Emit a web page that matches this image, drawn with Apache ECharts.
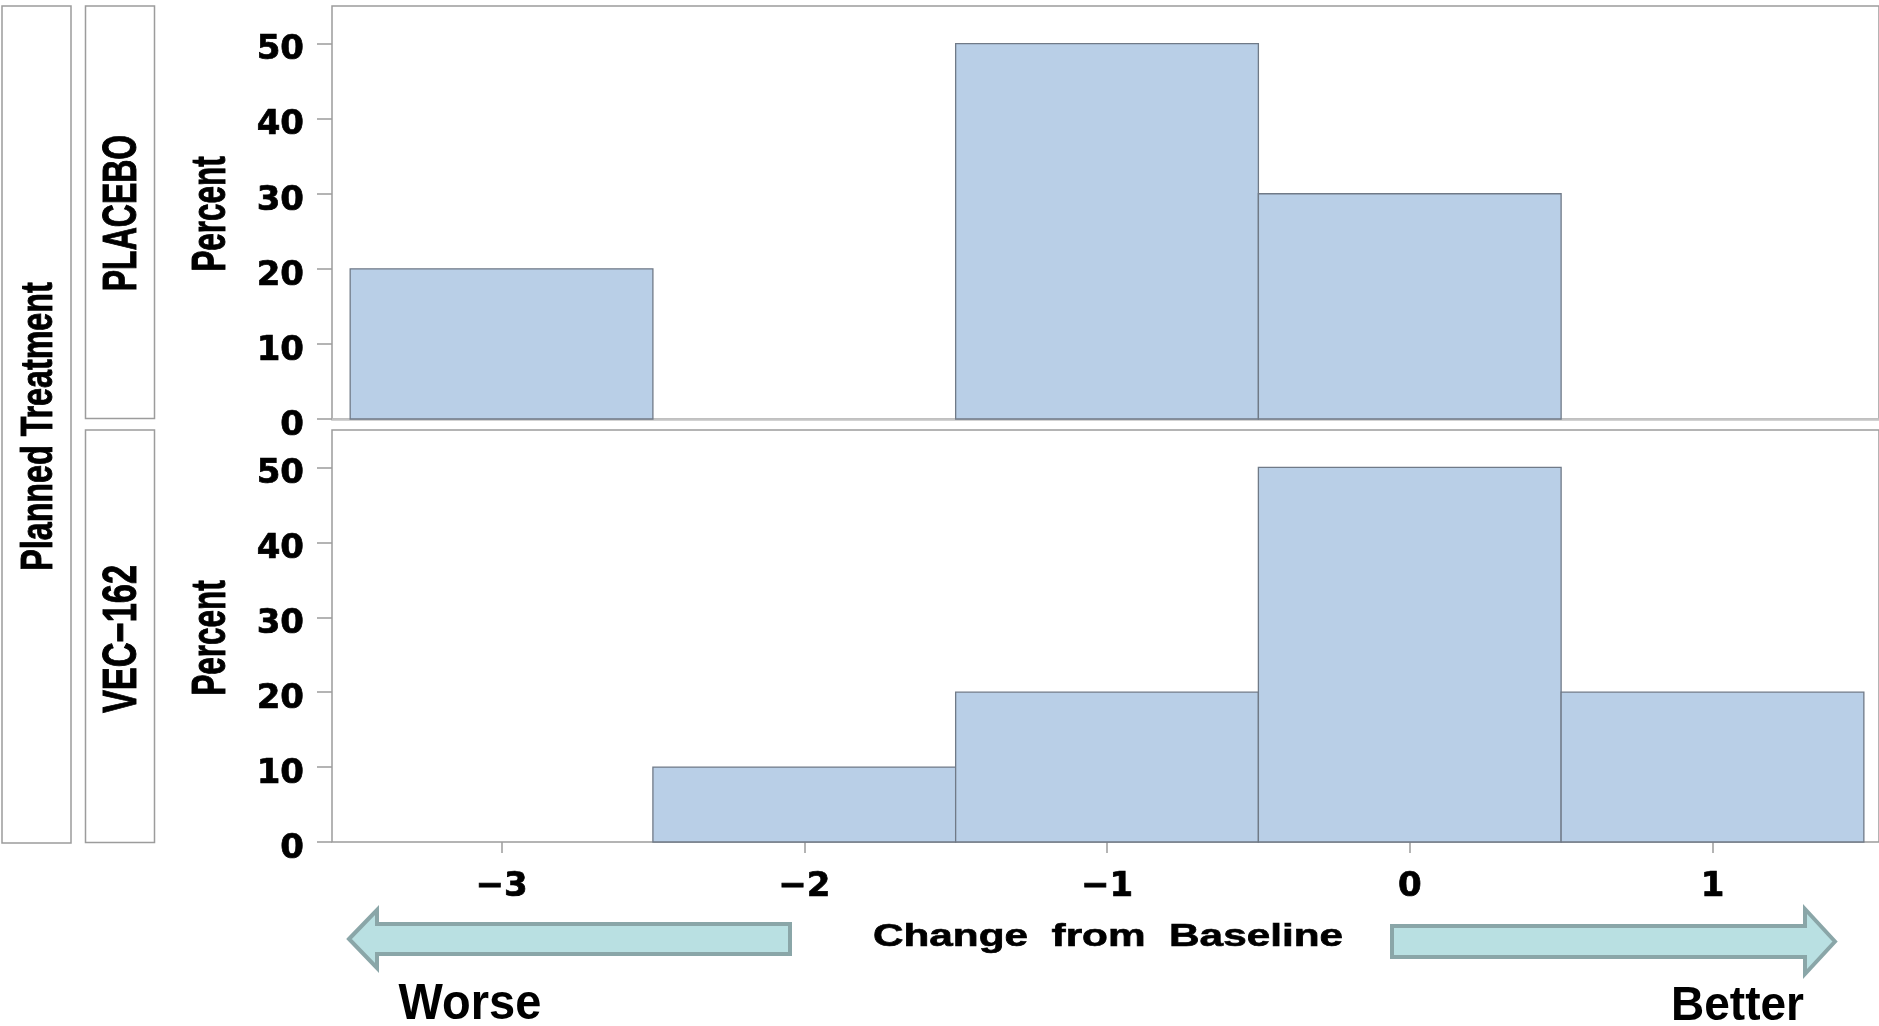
<!DOCTYPE html>
<html><head><meta charset="utf-8">
<script src="https://cdn.jsdelivr.net/npm/echarts@6/dist/echarts.min.js"></script>
<style>html,body{margin:0;padding:0;background:#fff}#c{width:1879px;height:1026px}</style>
</head><body><div id="c"></div>
<script>
// ---- data ----
const changeValues = [-3, -2, -1, 0, 1];      // bin centres (Change from Baseline)
const binWidth = 1;
const placeboPercent = [20, 0, 50, 30, 0];
const vec162Percent = [0, 10, 20, 50, 20];
const xTickValues = [-3, -2, -1, 0, 1];
const yTickValues = [0, 10, 20, 30, 40, 50];
const panelLabels = ['PLACEBO', 'VEC−162'];
const rowTitle = 'Planned Treatment';
const yTitle = 'Percent';
const xTitle = 'Change  from  Baseline';
const worseLabel = 'Worse';
const betterLabel = 'Better';

// ---- styling ----
const FRAME = '#9c9c9c';
const BAR_FILL = '#b9cfe7';
const BAR_EDGE = '#707a87';
const ARROW_FILL = '#b9e0e2';
const ARROW_EDGE = '#8aa6a8';
const TICK_FONT = 'DejaVu Sans';
const TITLE_FONT = 'Liberation Sans';

function bins(values) {
  return changeValues.map((c, i) => [c - binWidth / 2, c + binWidth / 2, values[i]]);
}
function renderBin(params, api) {
  const v = api.value(2);
  if (!v) return null;
  const a = api.coord([api.value(0), v]);
  const b = api.coord([api.value(1), 0]);
  return {
    type: 'rect',
    shape: { x: a[0], y: a[1], width: b[0] - a[0], height: b[1] - a[1] },
    style: { fill: BAR_FILL, stroke: BAR_EDGE, lineWidth: 1.3 }
  };
}
const fmtMinus = v => String(v).replace('-', '\u2212');

const X_MIN = -3.56, X_MAX = 1.55, Y_MAX = 55;

function xAxis(gi, showLabels) {
  return {
    type: 'value', gridIndex: gi, min: X_MIN, max: X_MAX,
    axisLine: { show: !showLabels, onZero: false, lineStyle: { color: '#c4c4c4', width: 2.5 } },
    splitLine: { show: false },
    axisTick: { show: showLabels, customValues: xTickValues, length: 11,
      lineStyle: { color: FRAME, width: 1.5 } },
    axisLabel: { show: showLabels, customValues: xTickValues, formatter: fmtMinus,
      margin: 28, color: '#000', fontFamily: TICK_FONT, fontWeight: 'bold', fontSize: 34,
      textBorderColor: '#000', textBorderWidth: 0.7 }
  };
}
function yAxis(gi) {
  return {
    type: 'value', gridIndex: gi, min: 0, max: Y_MAX,
    axisLine: { show: false, onZero: false }, splitLine: { show: false },
    axisTick: { show: true, customValues: yTickValues, length: 15,
      lineStyle: { color: FRAME, width: 1.5 } },
    axisLabel: { customValues: yTickValues, margin: 28, color: '#000',
      fontFamily: TICK_FONT, fontWeight: 'bold', fontSize: 34,
      textBorderColor: '#000', textBorderWidth: 0.7,
      verticalAlign: 'top', lineHeight: 14 }
  };
}

function vText(text, x, y, sx, sy) {
  return { type: 'text', x: x, y: y, rotation: Math.PI / 2, scaleX: sx, scaleY: sy,
    style: { text: text, fill: '#000', stroke: '#000', lineWidth: 0.8,
      font: 'bold 40px "' + TITLE_FONT + '"', align: 'center', verticalAlign: 'middle' } };
}
function box(x, y, w, h) {
  return { type: 'rect', shape: { x: x, y: y, width: w, height: h },
    style: { fill: 'none', stroke: FRAME, lineWidth: 1.5 } };
}
function arrow(points) {
  return { type: 'polygon', shape: { points: points },
    style: { fill: ARROW_FILL, stroke: ARROW_EDGE, lineWidth: 4, lineJoin: 'miter' } };
}

const chart = echarts.init(document.getElementById('c'), null, { renderer: 'canvas' });
chart.setOption({
  backgroundColor: '#fff',
  animation: false,
  grid: [
    { left: 332, top: 6, width: 1549, height: 413, show: true, borderColor: FRAME, borderWidth: 1.5 },
    { left: 332, top: 430, width: 1549, height: 412, show: true, borderColor: FRAME, borderWidth: 1.5 }
  ],
  xAxis: [xAxis(0, false), xAxis(1, true)],
  yAxis: [yAxis(0), yAxis(1)],
  series: [
    { type: 'custom', name: panelLabels[0], xAxisIndex: 0, yAxisIndex: 0,
      renderItem: renderBin, encode: { x: [0, 1], y: 2 }, data: bins(placeboPercent) },
    { type: 'custom', name: panelLabels[1], xAxisIndex: 1, yAxisIndex: 1,
      renderItem: renderBin, encode: { x: [0, 1], y: 2 }, data: bins(vec162Percent) }
  ],
  graphic: [
    box(2, 6, 69, 837),
    box(85.5, 6, 69, 412.5),
    box(85.5, 430, 69, 412.5),
    vText(rowTitle, 39.5, 426.5, 0.806, 1.13),
    vText(panelLabels[0], 122.5, 213, 0.80, 1.2),
    vText(panelLabels[1], 123, 639, 0.86, 1.2),
    vText(yTitle, 212, 214, 0.785, 1.2),
    vText(yTitle, 212, 638, 0.785, 1.2),
    { type: 'text', x: 1108, y: 937.5, scaleX: 1.41, scaleY: 1.03,
      style: { text: xTitle, fill: '#000', stroke: '#000', lineWidth: 0.6,
        font: 'bold 30px "' + TITLE_FONT + '"', align: 'center', verticalAlign: 'middle' } },
    arrow([[349, 939], [377, 910], [377, 924], [790, 924], [790, 954], [377, 954], [377, 968]]),
    arrow([[1835, 941.5], [1805, 909], [1805, 926], [1392, 926], [1392, 957], [1805, 957], [1805, 974]]),
    { type: 'text', x: 470, y: 1005, scaleY: 1.05,
      style: { text: worseLabel, fill: '#000', font: 'bold 47px "' + TITLE_FONT + '"',
        align: 'center', verticalAlign: 'middle' } },
    { type: 'text', x: 1737.5, y: 1007, scaleY: 1.05,
      style: { text: betterLabel, fill: '#000', font: 'bold 46px "' + TITLE_FONT + '"',
        align: 'center', verticalAlign: 'middle' } }
  ]
});
</script></body></html>
